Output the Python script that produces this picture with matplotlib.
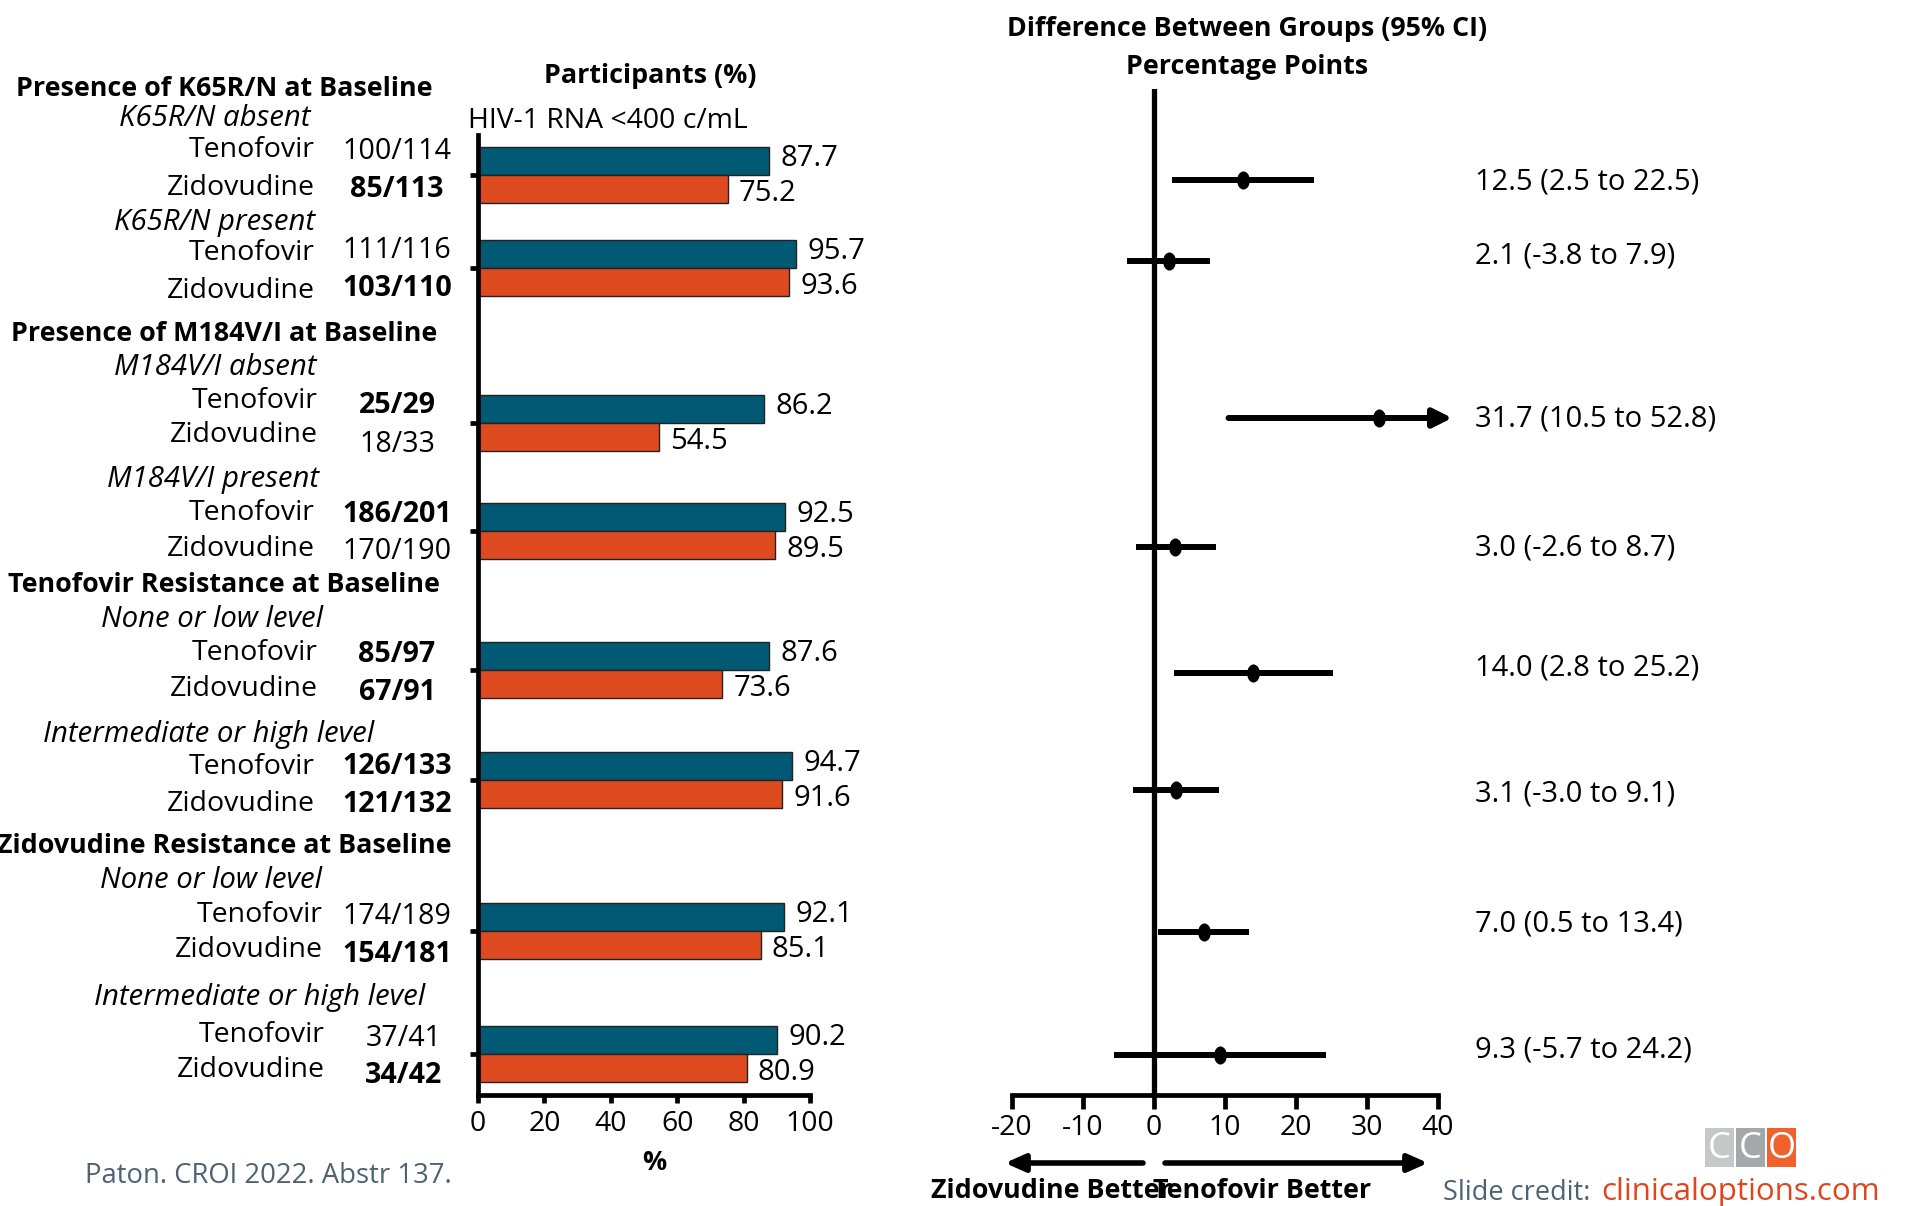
import matplotlib
matplotlib.use('Agg')
import matplotlib.pyplot as plt
import matplotlib.transforms as mtransforms
from matplotlib.path import Path
from matplotlib.patches import FancyArrowPatch, Rectangle, ArrowStyle

plt.rcParams['font.family'] = ['Open Sans', 'DejaVu Sans']
plt.rcParams['axes.unicode_minus'] = False

# ---- data -------------------------------------------------------------
sections = ["Presence of K65R/N at Baseline",
            "Presence of M184V/I at Baseline",
            "Tenofovir Resistance at Baseline",
            "Zidovudine Resistance at Baseline"]
subgroups = ["K65R/N absent", "K65R/N present",
             "M184V/I absent", "M184V/I present",
             "None or low level", "Intermediate or high level",
             "None or low level", "Intermediate or high level"]
arms = ["Tenofovir", "Zidovudine"]

tdf_n = ["100/114", "111/116", "25/29", "186/201", "85/97", "126/133", "174/189", "37/41"]
zdv_n = ["85/113", "103/110", "18/33", "170/190", "67/91", "121/132", "154/181", "34/42"]
tdf_bold = [False, False, True, True, True, True, False, False]
zdv_bold = [True, True, False, False, True, True, True, True]

tdf_pct = [87.7, 95.7, 86.2, 92.5, 87.6, 94.7, 92.1, 90.2]
zdv_pct = [75.2, 93.6, 54.5, 89.5, 73.6, 91.6, 85.1, 80.9]

diff = [12.5, 2.1, 31.7, 3.0, 14.0, 3.1, 7.0, 9.3]
ci_lo = [2.5, -3.8, 10.5, -2.6, 2.8, -3.0, 0.5, -5.7]
ci_hi = [22.5, 7.9, 52.8, 8.7, 25.2, 9.1, 13.4, 24.2]

pct_ticks = [0, 20, 40, 60, 80, 100]
diff_ticks = [-20, -10, 0, 10, 20, 30, 40]

# ---- layout (canvas pixels, measured from the top) ---------------------
W, H = 1917, 1206
bar_y = [175, 268, 423, 531, 670, 780, 931, 1054]
ci_y = [180, 261, 418, 547, 673, 790, 932, 1055]
ci_text_y = [179, 253, 416, 545, 665, 791, 921, 1047]
section_y = [86, 331, 582, 843]
sub_y = [116, 220, 365, 477, 617, 732, 878, 995]
sub_x = [215, 214, 215, 213, 212, 209, 211, 260]
arm_x = [315, 315, 318, 315, 318, 315, 323, 325]
tdf_y = [147, 250, 398, 510, 650, 764, 912, 1032]
zdv_y = [185, 288, 432, 546, 686, 801, 947, 1067]
tdf_frac_y = [149, 248, 403, 512, 652, 764, 914, 1036]
zdv_frac_y = [187, 286, 442, 549, 690, 802, 952, 1073]
frac_x = [397, 397, 397, 397, 397, 397, 397, 404]
BAR_H = 28

TEAL = '#025973'
ORANGE = '#DE4A1F'
GREY_TXT = '#4f6272'

HEAD = 19.4    # bold headings
BODY = 20.5    # row labels

fig = plt.figure(figsize=(W / 100, H / 100), dpi=100)
px = mtransforms.Affine2D().scale(1.0 / W, -1.0 / H).translate(0, 1) + fig.transFigure


def put(x, y, s, size=BODY, **kw):
    # y is the middle of the capitals, baseline sits half a cap below it
    return fig.text(x, y + 0.49 * size, s, transform=px, fontsize=size,
                    va='baseline', **kw)


def axes_px(left, top, right, bottom):
    return fig.add_axes([left / W, 1 - bottom / H, (right - left) / W, (bottom - top) / H])


# ---- left column labels -----------------------------------------------
for s, y in zip(sections, section_y):
    put(224, y, s, size=HEAD, weight='bold', ha='center')

for i in range(len(subgroups)):
    put(sub_x[i], sub_y[i], subgroups[i], size=21.2, style='italic', ha='center')
    put(arm_x[i], tdf_y[i], arms[0], ha='right')
    put(arm_x[i], zdv_y[i], arms[1], ha='right')
    put(frac_x[i], tdf_frac_y[i], tdf_n[i], size=20.6, ha='center',
        weight='bold' if tdf_bold[i] else 'normal')
    put(frac_x[i], zdv_frac_y[i], zdv_n[i], size=20.6, ha='center',
        weight='bold' if zdv_bold[i] else 'normal')

# ---- bar panel ---------------------------------------------------------
ax = axes_px(478, 135, 810, 1095)
ax.set_xlim(0, 100)
ax.set_ylim(1095, 135)
for y, t, z in zip(bar_y, tdf_pct, zdv_pct):
    ax.barh(y - BAR_H / 2, t, height=BAR_H, color=TEAL, edgecolor='#222222', linewidth=1)
    ax.barh(y + BAR_H / 2, z, height=BAR_H, color=ORANGE, edgecolor='#222222', linewidth=1)
    ax.text(t + 3.4, y - BAR_H / 2 - 5 + 10.3, f"{t:.1f}", fontsize=21, va='baseline')
    ax.text(z + 3.4, y + BAR_H / 2 + 2 + 10.3, f"{z:.1f}", fontsize=21, va='baseline')

for side in ['top', 'right']:
    ax.spines[side].set_visible(False)
for side in ['left', 'bottom']:
    ax.spines[side].set_linewidth(3.4)
ax.set_yticks(bar_y)
ax.set_xticks(pct_ticks)
ax.tick_params(axis='y', length=6, width=3.4, labelleft=False)
ax.tick_params(axis='x', length=6, width=3.4, labelsize=20.5, pad=5)

put(650, 73, "Participants (%)", size=HEAD, weight='bold', ha='center')
put(468, 118, "HIV-1 RNA <400 c/mL", size=20.4, ha='left')
put(654, 1160, "%", size=HEAD, weight='bold', ha='center')
put(85, 1173, "Paton. CROI 2022. Abstr 137.", size=19.8, color=GREY_TXT, ha='left')

# ---- difference panel --------------------------------------------------
fx = axes_px(1012, 89, 1438, 1095)
fx.set_xlim(diff_ticks[0], diff_ticks[-1])
fx.set_ylim(1095, 89)
fx.axvline(0, color='black', lw=3.8)
for side in ['top', 'right', 'left']:
    fx.spines[side].set_visible(False)
fx.spines['bottom'].set_linewidth(3.4)
fx.set_yticks([])
fx.set_xticks(diff_ticks)
fx.tick_params(axis='x', length=10, width=3.4, labelsize=20.5, pad=4)

dot = Path.unit_circle().transformed(mtransforms.Affine2D().scale(0.68, 1.0))
xmax = diff_ticks[-1]
for y, d, lo, hi in zip(ci_y, diff, ci_lo, ci_hi):
    if hi > xmax:
        # interval runs off the scale: end it with an arrowhead
        fx.annotate('', xy=(xmax + 2.0, y), xytext=(lo, y), annotation_clip=False,
                    arrowprops=dict(arrowstyle='-|>', lw=4.3, color='black',
                                    mutation_scale=28, shrinkA=0, shrinkB=0))
    else:
        fx.plot([lo, hi], [y, y], color='black', lw=4.3, solid_capstyle='butt')
    fx.plot(d, y, marker=dot, ms=12, color='black', zorder=5)

for y, d, lo, hi in zip(ci_text_y, diff, ci_lo, ci_hi):
    put(1475, y, f"{d:.1f} ({lo:.1f} to {hi:.1f})", size=21, ha='left')

put(1247, 26, "Difference Between Groups (95% CI)", size=HEAD, weight='bold', ha='center')
put(1247, 64, "Percentage Points", size=HEAD, weight='bold', ha='center')

head = ArrowStyle('-|>', head_length=0.45, head_width=0.2)
for x0, x1 in [(1143, 1005), (1165, 1428)]:
    fig.add_artist(FancyArrowPatch((x0, 1163), (x1, 1163), transform=px,
                                   arrowstyle=head, mutation_scale=26, lw=4.0,
                                   color='black', shrinkA=0, shrinkB=0))
put(1051, 1188, "Zidovudine Better", size=HEAD, weight='bold', ha='center')
put(1262, 1188, "Tenofovir Better", size=HEAD, weight='bold', ha='center')

# ---- footer logo and credit -------------------------------------------
for x0, c, letter in [(1705, '#c5c7c9', 'C'), (1736, '#a4a8aa', 'C'), (1767, '#f0622b', 'O')]:
    fig.add_artist(Rectangle((x0, 1128), 29, 39, transform=px, facecolor=c,
                             edgecolor='none'))
    fig.text(x0 + 14.5, 1149, letter, transform=px, fontsize=26, color='white',
             ha='center', va='center')

credit = put(1443, 1190, "Slide credit:", size=19.5, color=GREY_TXT, ha='left')
fig.canvas.draw()
bb = credit.get_window_extent()
# same baseline as the grey part, just to its right
fig.text(bb.x1 + 11, H - (1190 + 0.49 * 19.5), "clinicaloptions.com", fontsize=22.5,
         color='#e0461e', transform=None, ha='left', va='baseline')

fig.savefig('out.png', dpi=100)
